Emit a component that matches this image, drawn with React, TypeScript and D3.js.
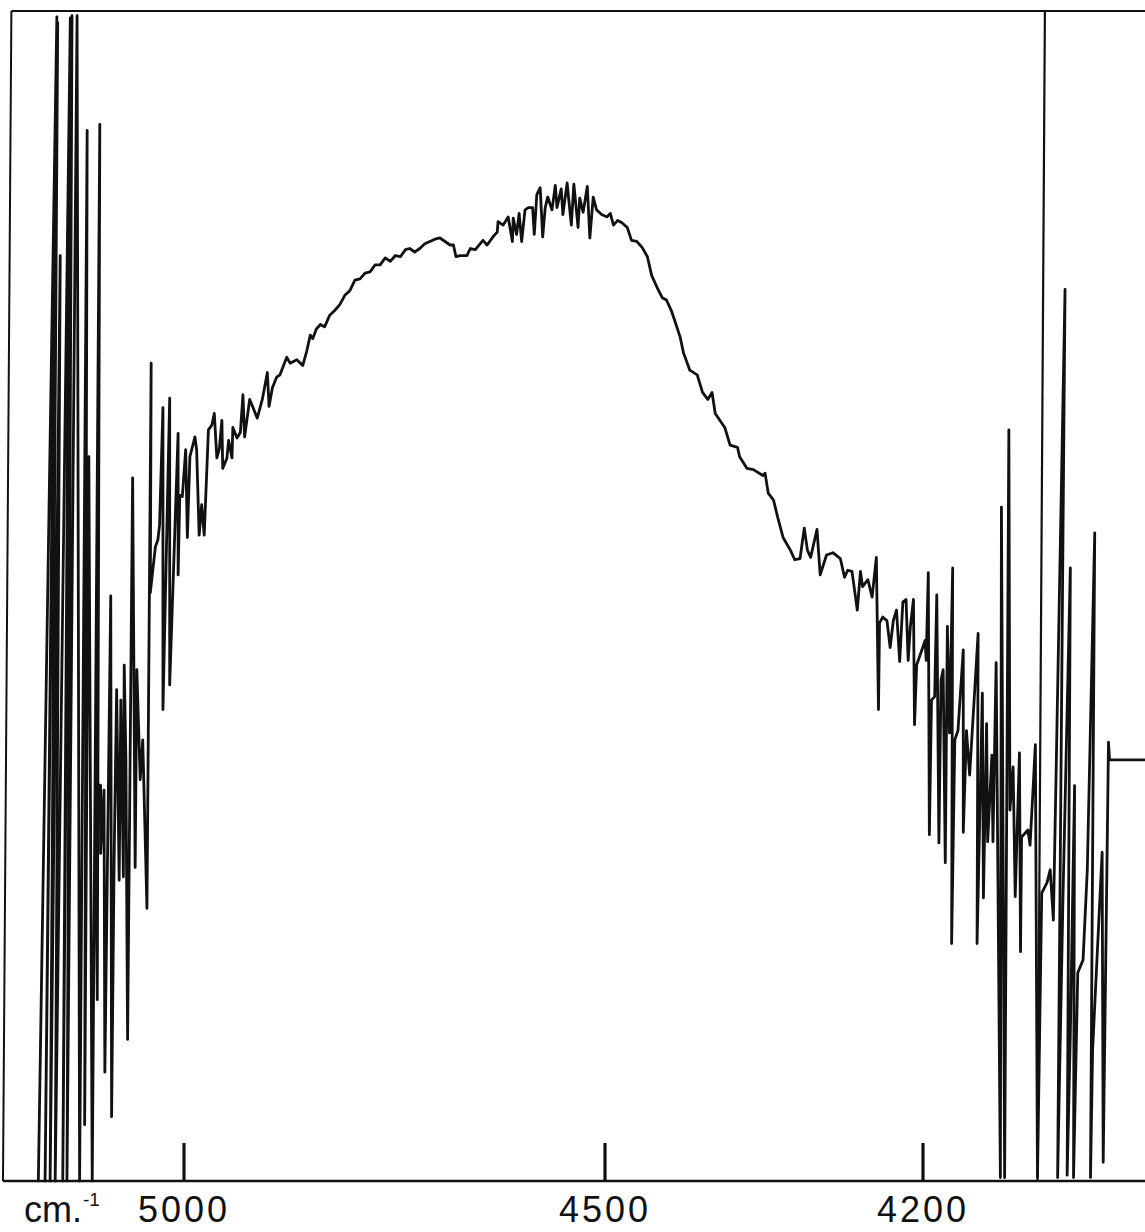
import React from 'react';
import * as d3 from 'd3';

// Wavenumber (cm^-1) of each recorded point, in pen order
const wavenumber = [
  5173, 5151, 5165, 5150, 5159, 5147, 5153, 5135, 5144, 5133, 5139, 5127, 5124, 5115, 5118, 5113, 5109, 5100, 5103, 5105,
  5099, 5099, 5095, 5094, 5087, 5086, 5083, 5080, 5077, 5075, 5072, 5071, 5069, 5067, 5061, 5058, 5056, 5052, 5049, 5044,
  5039, 5040, 5034, 5031, 5029, 5025, 5025, 5017, 5017, 5007, 5007, 5005, 5002, 4998, 4996, 4993, 4987, 4985, 4982, 4979,
  4976, 4971, 4967, 4964, 4961, 4958, 4955, 4954, 4949, 4947, 4943, 4942, 4937, 4933, 4930, 4928, 4922, 4918, 4913, 4907,
  4901, 4899, 4895, 4890, 4886, 4878, 4874, 4866, 4859, 4854, 4850, 4847, 4843, 4838, 4833, 4827, 4821, 4815, 4809, 4803,
  4797, 4791, 4785, 4779, 4773, 4767, 4761, 4755, 4749, 4743, 4737, 4732, 4726, 4720, 4714, 4708, 4702, 4696, 4690, 4684,
  4680, 4677, 4672, 4664, 4660, 4654, 4645, 4640, 4633, 4628, 4627, 4621, 4615, 4610, 4609, 4605, 4602, 4599, 4595, 4591,
  4586, 4584, 4581, 4577, 4574, 4571, 4568, 4563, 4559, 4557, 4552, 4550, 4545, 4540, 4537, 4532, 4530, 4526, 4521, 4518,
  4514, 4510, 4504, 4498, 4495, 4492, 4488, 4484, 4479, 4475, 4470, 4465, 4460, 4456, 4450, 4446, 4442, 4437, 4429, 4426,
  4420, 4413, 4408, 4403, 4399, 4396, 4387, 4382, 4375, 4373, 4366, 4360, 4351, 4349, 4346, 4341, 4337, 4332, 4325, 4321,
  4316, 4312, 4309, 4306, 4300, 4297, 4291, 4285, 4278, 4274, 4271, 4267, 4262, 4259, 4257, 4252, 4248, 4244, 4242, 4241,
  4238, 4234, 4231, 4228, 4225, 4222, 4219, 4216, 4214, 4212, 4209, 4208, 4206, 4201, 4198, 4197, 4195, 4194, 4192, 4189,
  4187, 4185, 4183, 4181, 4179, 4177, 4175, 4172, 4173, 4170, 4167, 4162, 4162, 4159, 4156, 4148, 4149, 4144, 4143, 4140,
  4139, 4135, 4134, 4131, 4127, 4126, 4123, 4119, 4118, 4115, 4113, 4109, 4108, 4107, 4101, 4099, 4096, 4094, 4092, 4088,
  4083, 4080, 4077, 4066, 4073, 4068, 4061, 4064, 4061, 4057, 4058, 4054, 4049, 4045, 4038, 4042, 4040, 4031, 4030, 4025,
  4024, 3991,
];

// Recorder deflection (% of full scale) for each point above
const signal = [
  0, 99.5, 0, 99.0, 0, 79.1, 0, 99.4, 0, 99.6, 0, 99.6, 0, 89.8, 4.8, 61.9, 0, 90.3, 15.5, 34.0,
  33.8, 28.0, 33.4, 9.3, 50.0, 5.5, 27.4, 42.0, 25.7, 41.1, 26.0, 44.1, 36.0, 12.1, 60.1, 26.8, 43.7, 34.3, 37.7, 23.3,
  69.9, 50.3, 54.2, 54.8, 56.1, 66.1, 40.3, 66.9, 42.4, 63.9, 51.8, 58.6, 58.5, 62.5, 55.0, 61.9, 63.6, 62.5, 55.2, 57.8,
  55.2, 64.2, 64.6, 65.6, 61.8, 62.6, 65.0, 60.9, 61.8, 63.3, 61.8, 64.4, 63.5, 64.0, 67.2, 63.6, 66.8, 66.1, 65.2, 66.8,
  69.1, 66.2, 67.8, 68.7, 68.9, 70.4, 69.9, 70.2, 69.7, 71.0, 72.3, 72.0, 72.8, 73.2, 73.0, 74.0, 74.4, 74.9, 75.7, 76.1,
  77.0, 77.1, 77.6, 77.7, 78.3, 78.3, 78.9, 78.6, 79.1, 79.0, 79.6, 79.7, 79.4, 79.7, 80.1, 80.3, 80.5, 80.6, 80.3, 80.0,
  80.0, 79.0, 79.1, 79.1, 79.7, 79.6, 80.4, 80.0, 80.7, 81.1, 82.0, 81.7, 82.4, 80.3, 82.3, 80.9, 82.7, 80.3, 83.0, 83.2,
  83.2, 80.9, 84.3, 84.9, 80.7, 83.2, 84.1, 83.0, 85.1, 83.2, 84.8, 82.6, 85.3, 81.7, 85.2, 81.5, 84.0, 82.8, 85.0, 80.6,
  84.1, 83.0, 82.6, 82.4, 82.7, 81.7, 82.1, 81.9, 81.5, 80.4, 80.3, 79.8, 79.0, 77.4, 76.2, 75.5, 75.3, 74.3, 72.1, 70.8,
  69.3, 68.9, 67.4, 66.8, 67.4, 65.6, 64.4, 62.9, 62.7, 61.9, 60.9, 60.8, 60.3, 60.5, 58.8, 58.2, 56.7, 55.0, 53.9, 53.1,
  53.2, 55.8, 53.9, 53.3, 55.7, 51.8, 53.5, 53.7, 53.2, 51.6, 52.2, 52.1, 48.8, 52.1, 50.8, 51.4, 49.9, 53.3, 40.3, 47.7,
  48.2, 47.9, 45.6, 47.9, 48.8, 44.4, 49.5, 49.7, 44.5, 47.3, 49.7, 39.0, 44.1, 45.4, 46.2, 44.5, 52.0, 29.6, 41.1, 41.4,
  50.1, 28.9, 42.8, 43.7, 27.2, 47.4, 38.3, 52.4, 20.3, 37.7, 38.5, 45.4, 29.8, 38.5, 34.7, 46.8, 20.3, 41.7, 24.2, 39.1,
  29.0, 36.4, 29.0, 44.3, 0.3, 57.6, 0.3, 64.2, 31.7, 35.4, 24.3, 36.6, 19.6, 29.4, 30.0, 28.7, 33.8, 37.3, 0.3, 24.6,
  25.5, 26.6, 22.3, 76.2, 0.3, 24.0, 52.4, 0.5, 12.6, 33.8, 0.3, 17.8, 18.9, 26.6, 55.4, 0.3, 11.2, 28.1, 1.6, 37.5,
  36.0, 36.0,
];

const tickValues = [5000, 4500, 4200];
const tickLabels = ['5000', '4500', '4200'];
const unitLabel = 'cm.';
const unitExponent = '-1';
// frame edges (wavenumber at top, at bottom)
const frameLeft = [5205, 5215];
const frameMark = [4085, 4092];

export default function App() {
  const W = 1145;
  const H = 1232;
  const x = d3.scaleLinear().domain([5000, 4500, 4200]).range([184, 605, 923]);
  const y = d3.scaleLinear().domain([0, 100]).range([1181, 11]);

  const pts = wavenumber.map((w, i) => ({ w, v: signal[i] }));
  const line = d3
    .line<{ w: number; v: number }>()
    .x((d) => x(d.w))
    .y((d) => y(d.v));

  const ink = '#111';
  const font = '"Liberation Sans", Arial, Helvetica, sans-serif';

  return (
    <svg
      width={W}
      height={H}
      viewBox={`0 0 ${W} ${H}`}
      style={{ position: 'absolute', left: 0, top: 0, background: '#fff', display: 'block' }}
    >
      <rect x={0} y={0} width={W} height={H} fill="#fff" />
      {/* frame */}
      <line x1={x(frameLeft[0])} y1={y(100)} x2={W} y2={y(100)} stroke={ink} strokeWidth={2} />
      <line x1={x(frameLeft[0])} y1={y(100)} x2={x(frameLeft[1])} y2={y(0)} stroke={ink} strokeWidth={2} />
      <line x1={x(frameLeft[1])} y1={y(0)} x2={W} y2={y(0)} stroke={ink} strokeWidth={2.4} />
      <line x1={x(frameMark[0])} y1={y(100)} x2={x(frameMark[1])} y2={y(0)} stroke={ink} strokeWidth={2.2} />
      {/* ticks */}
      {tickValues.map((t, i) => (
        <g key={t}>
          <line x1={x(t)} y1={y(0)} x2={x(t)} y2={y(0) - 38} stroke={ink} strokeWidth={3.2} />
          <text
            x={x(t)}
            y={1222}
            textAnchor="middle"
            fontFamily={font}
            fontSize={36}
            letterSpacing={3}
            fill={ink}
          >
            {tickLabels[i]}
          </text>
        </g>
      ))}
      <text x={24} y={1222} fontFamily={font} fontSize={36} fill={ink}>
        {unitLabel}
        <tspan fontSize={19} dy={-16} dx={1}>
          {unitExponent}
        </tspan>
      </text>
      {/* spectrum trace */}
      <path
        d={line(pts) || ''}
        fill="none"
        stroke={ink}
        strokeWidth={2.8}
        strokeLinejoin="round"
        strokeLinecap="round"
      />
    </svg>
  );
}
